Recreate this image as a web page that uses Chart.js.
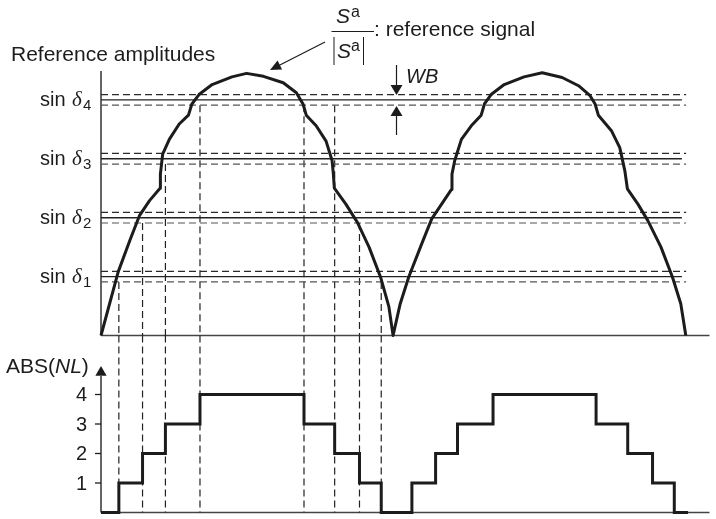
<!DOCTYPE html>
<html>
<head>
<meta charset="utf-8">
<script src="https://cdn.jsdelivr.net/npm/chart.js@4.4.1/dist/chart.umd.min.js"></script>
<style>
  html, body { margin: 0; padding: 0; background: #fff; }
  #wrap { position: relative; width: 716px; height: 519px; }
</style>
</head>
<body>
<div id="wrap"><canvas id="myChart" width="716" height="519"></canvas></div>
<script>
// x = phase in degrees, top y = amplitude in units of level spacing (sin d1 = 1 ... sin d4 = 4)
const curveX = [0, 10.6, 17.7, 23.8, 29.9, 36.4, 36.6, 38.0, 42.1, 48.2, 53.9, 56.0, 60.4, 68.5, 80.7, 89.7,
    100.1, 112.3, 120.4, 124.5, 126.5, 132.6, 138.7, 142.4, 143.2, 143.8, 150.9, 158.0, 165.2, 172.3, 177.4, 180,
    184.4, 189.6, 197.7, 203.8, 209.9, 216.0, 216.3, 218.0, 222.1, 228.2, 234.3, 236.3, 240.4, 248.5, 260.7, 271.9,
    284.2, 294.3, 301.4, 304.5, 306.5, 314.7, 319.7, 322.8, 324.4, 330.9, 337.0, 345.1, 352.2, 357.3, 360.4];
const curveY = [0, 1.08, 1.61, 2.04, 2.29, 2.50, 2.74, 3.08, 3.33, 3.59, 3.74, 3.93, 4.09, 4.26, 4.39, 4.45,
    4.40, 4.29, 4.12, 3.93, 3.74, 3.56, 3.30, 2.97, 2.74, 2.50, 2.23, 1.92, 1.50, 0.99, 0.49, 0,
    0.54, 0.99, 1.56, 1.98, 2.23, 2.48, 2.74, 2.97, 3.33, 3.56, 3.74, 3.93, 4.09, 4.26, 4.39, 4.46,
    4.38, 4.24, 4.07, 3.93, 3.74, 3.47, 3.19, 2.80, 2.49, 2.23, 1.95, 1.50, 0.99, 0.54, 0];

// ABS(NL) staircase: level holds from each x until the next one
const stepX = [0, 11.0, 25.6, 39.7, 61.0, 125.1, 144.0, 159.3, 172.7, 191.6, 206.2, 219.7, 241.6, 305.1, 324.6, 339.9, 353.3, 361.8];
const stepY = [0, 1, 2, 3, 4, 3, 2, 1, 0, 1, 2, 3, 4, 3, 2, 1, 0, 0];

const levels = [1, 2, 3, 4];
const levelNames = ['1', '2', '3', '4'];
const halfBand = 0.09; // WB / 2
const nlTicks = [1, 2, 3, 4];

// vertical dashed projections: x and the level they drop from
const dropX = [11.0, 25.6, 39.7, 61.0, 125.1, 144.0, 159.3, 172.7];
const dropFrom = [0.91, 1.91, 2.91, 3.91, 3.91, 3.91, 1.91, 0.91];

const ink = '#1c1c1c';
const FONT = '"Liberation Sans", Arial, sans-serif';

function pts(xs, ys) {
    return xs.map((x, i) => ({ x: x, y: ys[i] }));
}

function seg(x1, y1, x2, y2, axis, color, width, dash) {
    return {
        data: [{ x: x1, y: y1 }, { x: x2, y: y2 }],
        yAxisID: axis,
        borderColor: color,
        borderWidth: width,
        borderDash: dash || [],
        pointRadius: 0,
        clip: false
    };
}

const datasets = [];
datasets.push({
    data: pts(curveX, curveY), yAxisID: 'yTop', borderColor: ink, borderWidth: 3,
    pointRadius: 0, tension: 0, borderJoinStyle: 'round', clip: false
});
datasets.push({
    data: pts(stepX, stepY), yAxisID: 'yBot', borderColor: ink, borderWidth: 3,
    pointRadius: 0, stepped: true, clip: false
});
levels.forEach(lv => {
    datasets.push(seg(0, lv, 358, lv, 'yTop', '#222', 1.4));
    datasets.push(seg(0, lv + halfBand, 360.6, lv + halfBand, 'yTop', '#2a2a2a', 1.2, [7, 4]));
    datasets.push(seg(0, lv - halfBand, 360.6, lv - halfBand, 'yTop', '#555', 1.2, [7, 4]));
});
dropX.forEach((x, i) => {
    datasets.push(seg(x, dropFrom[i], x, 0, 'yTop', '#222', 1.2, [7, 4]));
    datasets.push(seg(x, 6, x, 0, 'yBot', '#222', 1.2, [7, 4]));
});
// baselines and axes
datasets.push(seg(0, 0, 375, 0, 'yTop', '#444', 1.5));
datasets.push(seg(0, 0, 375, 0, 'yBot', '#444', 1.5));
datasets.push(seg(0, 0, 0, 4.49, 'yTop', '#333', 1.5));
datasets.push(seg(0, 0, 0, 4.63, 'yBot', '#333', 1.5));
datasets.push({
    data: [{ x: 0, y: 4.75 }], yAxisID: 'yBot', pointStyle: 'triangle', pointRadius: 6.5,
    backgroundColor: ink, borderColor: ink, borderWidth: 0, showLine: false, clip: false
});

function arrowHead(ctx, x1, y1, x2, y2, len, half) {
    const a = Math.atan2(y2 - y1, x2 - x1);
    ctx.beginPath();
    ctx.moveTo(x2, y2);
    ctx.lineTo(x2 - len * Math.cos(a) + half * Math.sin(a), y2 - len * Math.sin(a) - half * Math.cos(a));
    ctx.lineTo(x2 - len * Math.cos(a) - half * Math.sin(a), y2 - len * Math.sin(a) + half * Math.cos(a));
    ctx.closePath();
    ctx.fill();
}

function arrow(ctx, x1, y1, x2, y2, len, half) {
    const a = Math.atan2(y2 - y1, x2 - x1);
    ctx.beginPath();
    ctx.moveTo(x1, y1);
    ctx.lineTo(x2 - (len - 1) * Math.cos(a), y2 - (len - 1) * Math.sin(a));
    ctx.stroke();
    arrowHead(ctx, x1, y1, x2, y2, len, half);
}

const textPlugin = {
    id: 'figureText',
    afterDraw(chart) {
        const ctx = chart.ctx;
        const yTop = chart.scales.yTop;
        const yBot = chart.scales.yBot;
        const left = chart.chartArea.left;
        ctx.save();
        ctx.fillStyle = ink;
        ctx.strokeStyle = ink;
        ctx.textBaseline = 'alphabetic';

        ctx.font = '21px ' + FONT;
        ctx.fillText('Reference amplitudes', 11, 61);

        // sin delta_k labels
        levels.forEach((lv, i) => {
            const y = yTop.getPixelForValue(lv);
            ctx.font = '20px ' + FONT;
            ctx.fillText('sin', 40, y + 6);
            ctx.font = 'italic 21px "Liberation Serif", serif';
            ctx.fillText('\u03b4', 72, y + 6);
            ctx.font = '15px ' + FONT;
            ctx.fillText(levelNames[i], 83, y + 10);
        });

        // ABS(NL) axis ticks
        ctx.lineWidth = 1.3;
        ctx.textAlign = 'right';
        ctx.textBaseline = 'middle';
        ctx.font = '20px ' + FONT;
        nlTicks.forEach(t => {
            const y = yBot.getPixelForValue(t);
            ctx.fillText(String(t), left - 14, y + 1);
            ctx.beginPath();
            ctx.moveTo(left - 6, y);
            ctx.lineTo(left, y);
            ctx.stroke();
        });

        ctx.textAlign = 'left';
        ctx.textBaseline = 'alphabetic';
        let x = 6;
        const by = 373;
        ctx.font = '21px ' + FONT;
        ctx.fillText('ABS(', x, by);
        x += ctx.measureText('ABS(').width;
        ctx.font = 'italic 21px ' + FONT;
        ctx.fillText('NL', x, by);
        x += ctx.measureText('NL').width;
        ctx.font = '21px ' + FONT;
        ctx.fillText(')', x, by);

        // S^a / |S^a| : reference signal
        ctx.font = 'italic 21px ' + FONT;
        ctx.fillText('S', 336, 23);
        ctx.font = '16px ' + FONT;
        ctx.fillText('a', 351, 17);
        ctx.lineWidth = 1;
        ctx.beginPath();
        ctx.moveTo(331.5, 31.5);
        ctx.lineTo(374, 31.5);
        ctx.moveTo(334, 37);
        ctx.lineTo(334, 65);
        ctx.moveTo(363.5, 37);
        ctx.lineTo(363.5, 65);
        ctx.stroke();
        ctx.font = 'italic 21px ' + FONT;
        ctx.fillText('S', 337, 58);
        ctx.font = '16px ' + FONT;
        ctx.fillText('a', 351, 51);
        ctx.font = '21px ' + FONT;
        ctx.fillText(': reference signal', 374, 36);

        ctx.lineWidth = 1.2;
        arrow(ctx, 325, 42, 270, 70, 11, 5);

        // WB band marker
        arrow(ctx, 396.5, 65, 396.5, 95, 10, 6);
        arrow(ctx, 396.5, 135, 396.5, 106, 10, 6);
        ctx.font = 'italic 20px ' + FONT;
        ctx.fillText('WB', 406, 83);

        ctx.restore();
    }
};

const chartCanvasElement = document.getElementById('myChart');
const myChartInstance = new Chart(chartCanvasElement, {
    type: 'line',
    data: { datasets: datasets },
    options: {
        responsive: false,
        animation: false,
        devicePixelRatio: 1,
        layout: { padding: { left: 101, right: 0, top: 71, bottom: 4 } },
        plugins: { legend: { display: false }, tooltip: { enabled: false } },
        scales: {
            x: { type: 'linear', min: 0, max: 375, display: false },
            yBot: { type: 'linear', min: 0, max: 6, display: false, position: 'left', stack: 'v', stackWeight: 178, weight: 1 },
            yTop: { type: 'linear', min: 0, max: 4.49, display: false, position: 'left', stack: 'v', stackWeight: 266, weight: 2 }
        }
    },
    plugins: [textPlugin]
});
</script>
</body>
</html>
